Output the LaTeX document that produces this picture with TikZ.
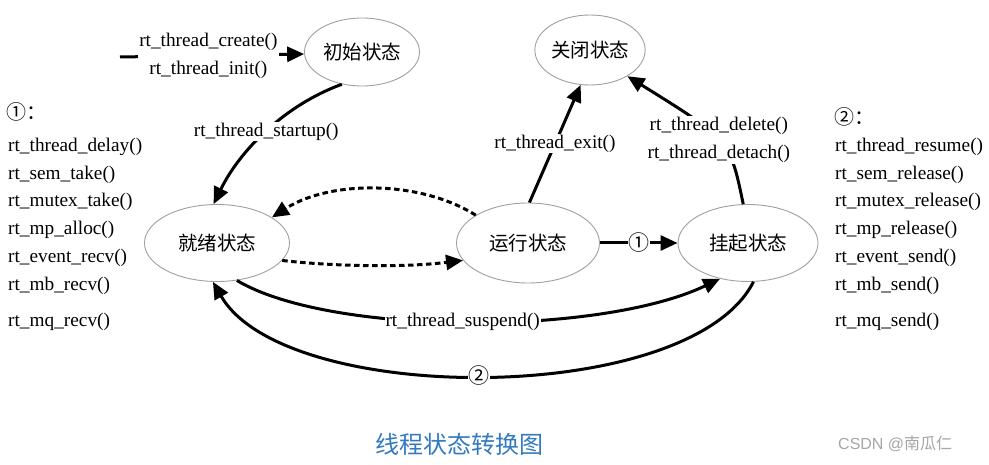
\documentclass[tikz,border=0pt]{standalone}
\usepackage{fontspec}
\setmainfont{Liberation Serif}
\newfontfamily\cjk{Noto Sans CJK SC}
\newfontfamily\wmfont{Liberation Sans}
\usetikzlibrary{shapes.geometric,arrows.meta}
\definecolor{ellgray}{RGB}{160,160,160}
\definecolor{capblue}{RGB}{52,122,192}
\tikzset{
  state/.style={ellipse,draw=ellgray,line width=0.9pt,inner sep=0pt,font=\cjk\fontsize{19.5}{21}\selectfont},
  arr/.style={line width=3pt,-{Triangle[length=17pt,width=15pt]}},
  dasharr/.style={arr,dash pattern=on 5.5pt off 3.5pt},
  lbl/.style={fill=white,inner sep=1pt,align=center,font=\fontsize{19.3}{28}\selectfont},
  circ/.style={fill=white,inner sep=0.5pt,font=\cjk\fontsize{21}{22}\selectfont},
  listtxt/.style={anchor=west,inner sep=0pt,font=\fontsize{19.3}{22}\selectfont}
}
\begin{document}
\begin{tikzpicture}[x=1pt,y=-1pt]
\useasboundingbox[fill=white] (0,0) rectangle (989,465);
% states
\node[state,minimum width=115pt,minimum height=68pt] (init) at (362,52) {初始状态};
\node[state,minimum width=110pt,minimum height=70pt] (close) at (590,50) {关闭状态};
\node[state,minimum width=145pt,minimum height=77pt] (ready) at (217,243) {就绪状态};
\node[state,minimum width=143pt,minimum height=80pt] (run) at (528,243) {运行状态};
\node[state,minimum width=140pt,minimum height=77pt] (susp) at (748,243) {挂起状态};
% connectors
\coordinate (start) at (120,57);
\draw[arr] (start) -- node[lbl,pos=0.48]{rt\_thread\_create()\\rt\_thread\_init()} (init.182);
\draw[arr] (init.238) .. controls (285,105) and (240,150) .. node[lbl,pos=0.5]{rt\_thread\_startup()} (ready.95);
\draw[arr] (run.88) -- node[lbl,pos=0.5]{rt\_thread\_exit()} (close.-105);
\draw[arr] (susp.97) .. controls (730,140) .. node[lbl,pos=0.5]{rt\_thread\_delete()\\rt\_thread\_detach()} (close.-35);
\draw[dasharr] (run.152) .. controls (420,180) and (330,180) .. (ready.25);
\draw[dasharr] (ready.-15) .. controls (330,266) and (400,268) .. (run.-165);
\draw[arr] (run.east) -- node[circ]{①} (susp.west);
\draw[arr] (ready.-62) .. controls (330,336) and (600,336) .. node[lbl,pos=0.49]{rt\_thread\_suspend()} (susp.-128);
\draw[arr] (susp.-82) .. controls (690,407) and (285,407) .. node[circ,pos=0.51]{②} (ready.-96);
% left list
\node[listtxt,font=\cjk\fontsize{20}{21}\selectfont] (l0) at (6,112) {①：};
\foreach \t/\y [count=\i] in {rt\_thread\_delay()/147,rt\_sem\_take()/175,rt\_mutex\_take()/202,rt\_mp\_alloc()/230,rt\_event\_recv()/258,rt\_mb\_recv()/286,rt\_mq\_recv()/322}
  \node[listtxt] (l\i) at (8,\y) {\t};
% right list
\node[listtxt,font=\cjk\fontsize{20}{21}\selectfont] (r0) at (834,117) {②：};
\foreach \t/\y [count=\i] in {rt\_thread\_resume()/147,rt\_sem\_release()/175,rt\_mutex\_release()/202,rt\_mp\_release()/230,rt\_event\_send()/258,rt\_mb\_send()/286,rt\_mq\_send()/322}
  \node[listtxt] (r\i) at (835,\y) {\t};
% caption and watermark
\node[text=capblue,font=\cjk\fontsize{24}{26}\selectfont] (cap) at (459,444) {线程状态转换图};
\node[text=gray!70,font=\wmfont\fontsize{16}{18}\selectfont,anchor=west,inner sep=0pt] (wm) at (838,444) {CSDN @{\cjk 南瓜仁}};
\end{tikzpicture}
\end{document}
